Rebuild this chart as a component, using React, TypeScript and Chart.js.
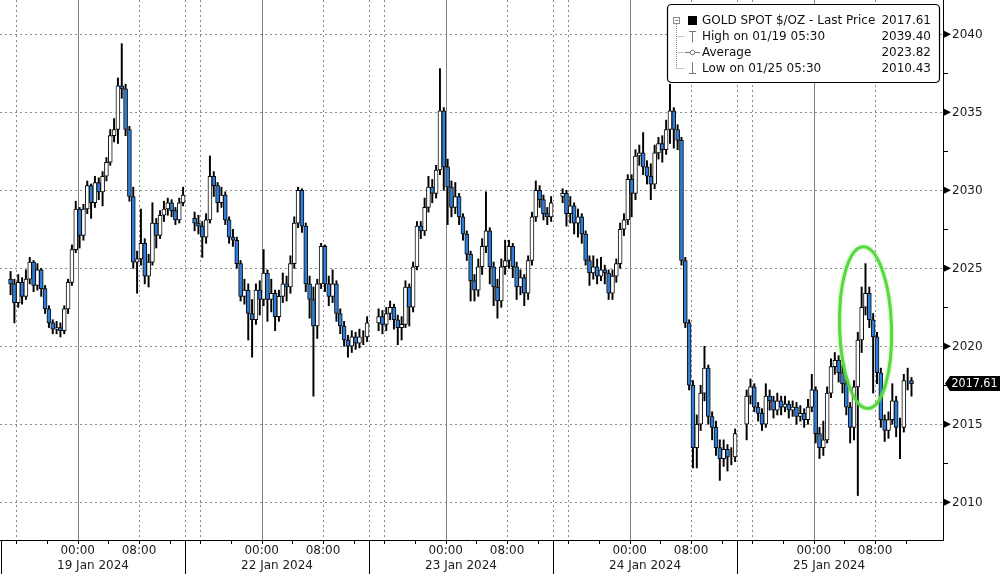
import React, { useEffect, useRef } from "react";
import { Chart, registerables } from "chart.js";

Chart.register(...registerables);

// ---- data ----
const dayLabels = ["19 Jan 2024", "22 Jan 2024", "23 Jan 2024", "24 Jan 2024", "25 Jan 2024"];
const barsPerDay = [46, 46, 46, 46, 44];
const hourTickLabels = ["00:00", "08:00"];
const yMajorTicks = [2010, 2015, 2020, 2025, 2030, 2035, 2040];

const opens = [
  // 19 Jan
  2024.3, 2024.0, 2022.8, 2024.1, 2023.2, 2024.3, 2025.4, 2023.9, 2024.9, 2023.7,
  2022.4, 2021.5, 2021.1, 2021.2, 2021.0, 2022.4, 2024.1, 2026.2, 2028.8, 2027.1,
  2028.8, 2030.3, 2029.2, 2030.5, 2029.9, 2030.9, 2031.8, 2033.5, 2033.9, 2036.7,
  2036.5, 2033.9, 2029.6, 2025.4, 2025.6, 2026.6, 2024.5, 2025.4, 2027.9, 2027.1,
  2028.4, 2028.8, 2029.2, 2028.7, 2028.1, 2029.2,
  // 22 Jan
  2028.2, 2027.9, 2027.7, 2027.0, 2028.1, 2030.9, 2030.3, 2029.2, 2029.7, 2028.1,
  2027.0, 2026.8, 2025.3, 2023.2, 2023.6, 2022.1, 2021.7, 2023.6, 2023.0, 2024.7,
  2023.0, 2023.4, 2021.9, 2023.2, 2024.0, 2023.8, 2025.3, 2027.9, 2030.0, 2027.7,
  2024.0, 2023.0, 2021.3, 2024.0, 2026.4, 2024.0, 2023.2, 2024.0, 2022.1, 2021.3,
  2020.4, 2020.0, 2020.6, 2020.2, 2020.6, 2020.6,
  // 23 Jan
  2021.5, 2021.9, 2021.4, 2022.1, 2022.5, 2021.7, 2021.2, 2021.4, 2023.8, 2022.5,
  2025.1, 2027.7, 2027.4, 2028.9, 2030.2, 2029.8, 2031.3, 2035.1, 2031.5, 2030.2,
  2028.9, 2029.6, 2028.3, 2027.2, 2025.9, 2024.2, 2023.6, 2025.1, 2026.4, 2027.4,
  2025.1, 2023.8, 2022.9, 2025.1, 2025.5, 2026.4, 2025.1, 2023.8, 2024.4, 2023.4,
  2025.5, 2028.3, 2030.0, 2029.4, 2028.5, 2028.3,
  // 24 Jan
  2029.6, 2029.8, 2028.5, 2029.0, 2027.9, 2028.3, 2027.2, 2025.5, 2024.7, 2025.1,
  2024.5, 2024.9, 2024.7, 2023.4, 2024.5, 2025.3, 2027.5, 2028.1, 2030.7, 2029.8,
  2032.2, 2032.4, 2031.5, 2030.9, 2030.4, 2032.4, 2033.0, 2032.6, 2033.9, 2035.1,
  2033.9, 2033.2, 2025.5, 2021.5, 2017.5, 2013.5, 2015.0, 2017.0, 2018.6, 2015.5,
  2014.8, 2013.5, 2012.8, 2013.4, 2012.9, 2012.9,
  // 25 Jan
  2015.0, 2016.8, 2017.4, 2016.1, 2015.7, 2015.0, 2016.8, 2016.5, 2015.9, 2016.5,
  2016.1, 2016.3, 2015.9, 2016.1, 2015.5, 2015.7, 2015.3, 2016.1, 2017.2, 2014.4,
  2013.5, 2014.0, 2017.0, 2018.7, 2019.1, 2018.3, 2017.6, 2016.1, 2014.8, 2017.4,
  2020.4, 2022.5, 2023.4, 2021.7, 2020.6, 2018.3, 2015.3, 2014.6, 2015.3, 2016.5,
  2014.8, 2014.8, 2017.8, 2017.8,
];

const highs = [
  // 19 Jan
  2024.8, 2024.3, 2024.6, 2024.4, 2024.9, 2025.7, 2025.5, 2025.3, 2025.0, 2023.9,
  2022.6, 2021.7, 2021.6, 2021.5, 2022.6, 2024.3, 2026.5, 2029.3, 2028.9, 2029.1,
  2030.6, 2030.4, 2030.9, 2030.8, 2031.2, 2032.1, 2033.9, 2034.6, 2037.2, 2039.4,
  2036.8, 2034.1, 2030.2, 2026.1, 2028.8, 2026.9, 2025.9, 2029.2, 2028.2, 2028.7,
  2029.3, 2029.5, 2029.4, 2028.9, 2029.5, 2030.2,
  // 22 Jan
  2028.6, 2028.4, 2028.0, 2028.5, 2032.2, 2031.2, 2030.5, 2030.2, 2029.9, 2028.3,
  2027.5, 2027.0, 2025.5, 2024.3, 2024.0, 2023.0, 2024.0, 2024.2, 2026.2, 2024.9,
  2024.3, 2023.6, 2023.6, 2024.7, 2024.5, 2025.8, 2028.3, 2030.2, 2030.1, 2027.9,
  2024.5, 2023.8, 2024.3, 2026.6, 2026.5, 2024.5, 2024.9, 2024.2, 2022.4, 2021.6,
  2020.7, 2021.0, 2020.9, 2021.1, 2021.0, 2021.9,
  // 23 Jan
  2022.4, 2022.3, 2022.5, 2022.9, 2022.7, 2022.0, 2021.9, 2024.2, 2024.0, 2025.4,
  2028.0, 2028.0, 2029.5, 2030.9, 2030.7, 2031.6, 2037.8, 2035.3, 2032.0, 2030.6,
  2030.5, 2029.8, 2028.5, 2027.4, 2026.1, 2024.6, 2025.6, 2026.9, 2029.9, 2027.6,
  2025.4, 2024.3, 2025.6, 2026.8, 2026.8, 2026.6, 2025.4, 2024.9, 2024.6, 2025.8,
  2028.6, 2030.6, 2030.3, 2029.7, 2028.9, 2029.6,
  // 24 Jan
  2030.1, 2030.0, 2029.6, 2029.2, 2028.8, 2028.5, 2027.4, 2025.8, 2025.8, 2025.6,
  2025.7, 2025.2, 2024.9, 2024.9, 2025.6, 2027.9, 2028.5, 2031.0, 2031.0, 2032.6,
  2032.9, 2033.7, 2031.9, 2031.7, 2032.9, 2033.4, 2033.5, 2034.5, 2036.8, 2035.3,
  2034.2, 2033.4, 2025.7, 2021.7, 2017.8, 2015.6, 2017.5, 2020.0, 2018.8, 2015.8,
  2015.2, 2014.0, 2014.0, 2013.7, 2013.5, 2014.7,
  // 25 Jan
  2017.2, 2017.9, 2017.6, 2016.4, 2016.0, 2017.6, 2017.2, 2016.8, 2017.0, 2016.8,
  2016.8, 2016.5, 2016.5, 2016.4, 2016.2, 2016.0, 2016.6, 2018.2, 2017.4, 2014.8,
  2015.2, 2017.4, 2019.2, 2019.6, 2019.4, 2018.8, 2017.9, 2016.4, 2017.8, 2020.9,
  2023.8, 2025.3, 2023.8, 2022.1, 2020.9, 2018.6, 2015.6, 2015.8, 2017.6, 2016.8,
  2015.4, 2018.2, 2018.6, 2018.0,
];

const lows = [
  // 19 Jan
  2023.3, 2021.5, 2022.5, 2022.7, 2023.0, 2024.0, 2023.5, 2023.6, 2023.2, 2022.1,
  2021.2, 2020.8, 2020.8, 2020.6, 2020.8, 2022.1, 2023.9, 2026.0, 2026.3, 2026.8,
  2028.5, 2028.2, 2028.9, 2029.4, 2029.0, 2030.6, 2031.6, 2033.1, 2033.0, 2035.9,
  2033.5, 2029.3, 2025.0, 2023.4, 2025.2, 2024.0, 2023.8, 2025.2, 2026.3, 2026.9,
  2028.0, 2028.4, 2028.3, 2027.8, 2027.9, 2029.0,
  // 22 Jan
  2027.4, 2027.2, 2025.7, 2026.6, 2027.9, 2029.6, 2028.6, 2028.9, 2027.8, 2026.6,
  2026.4, 2025.0, 2022.9, 2022.7, 2020.4, 2019.3, 2021.4, 2022.0, 2022.6, 2021.6,
  2022.2, 2021.0, 2021.6, 2022.8, 2022.9, 2023.4, 2025.0, 2027.6, 2027.3, 2023.5,
  2021.8, 2016.8, 2020.5, 2023.7, 2023.5, 2022.6, 2022.8, 2021.6, 2020.8, 2020.0,
  2019.3, 2019.6, 2019.8, 2019.9, 2020.1, 2020.3,
  // 23 Jan
  2021.0, 2020.8, 2021.0, 2021.7, 2021.1, 2020.1, 2020.4, 2021.2, 2021.3, 2022.2,
  2024.9, 2026.9, 2027.1, 2028.6, 2029.2, 2029.5, 2031.0, 2030.0, 2027.8, 2028.3,
  2028.5, 2027.8, 2026.8, 2025.5, 2022.9, 2022.9, 2023.2, 2024.6, 2026.0, 2024.0,
  2022.6, 2021.8, 2022.5, 2024.6, 2025.0, 2024.4, 2023.0, 2023.3, 2022.6, 2023.0,
  2025.2, 2028.0, 2028.9, 2028.1, 2027.8, 2028.0,
  // 24 Jan
  2029.2, 2027.7, 2027.9, 2027.2, 2027.0, 2026.6, 2025.2, 2023.9, 2024.3, 2024.0,
  2024.2, 2024.0, 2023.0, 2023.0, 2024.1, 2025.0, 2027.1, 2027.8, 2028.3, 2029.4,
  2031.6, 2031.0, 2030.4, 2029.4, 2030.1, 2032.0, 2031.8, 2032.3, 2033.0, 2032.7,
  2032.6, 2025.2, 2021.2, 2017.2, 2012.2, 2012.2, 2014.6, 2016.5, 2015.0, 2014.0,
  2013.0, 2011.4, 2012.3, 2012.0, 2012.4, 2012.6,
  // 25 Jan
  2014.0, 2016.3, 2015.8, 2015.2, 2014.6, 2014.8, 2015.9, 2015.4, 2015.6, 2015.6,
  2015.8, 2015.4, 2015.5, 2015.0, 2015.2, 2014.8, 2015.0, 2015.8, 2013.8, 2012.8,
  2013.0, 2013.8, 2016.7, 2018.2, 2017.7, 2017.0, 2015.6, 2013.8, 2014.0, 2010.43,
  2019.6, 2022.0, 2021.2, 2017.0, 2017.6, 2014.8, 2013.9, 2014.1, 2015.0, 2014.2,
  2012.8, 2014.5, 2017.2, 2016.8,
];

const closes = [
  // 19 Jan
  2024.0, 2022.8, 2024.1, 2023.2, 2024.3, 2025.4, 2023.9, 2024.9, 2023.7, 2022.4,
  2021.5, 2021.1, 2021.2, 2021.0, 2022.4, 2024.1, 2026.2, 2028.8, 2027.1, 2028.8,
  2030.3, 2029.2, 2030.5, 2029.9, 2030.9, 2031.8, 2033.5, 2033.9, 2036.7, 2036.5,
  2033.9, 2029.6, 2025.4, 2025.6, 2026.6, 2024.5, 2025.4, 2027.9, 2027.1, 2028.4,
  2028.8, 2029.2, 2028.7, 2028.1, 2029.2, 2029.7,
  // 22 Jan
  2027.9, 2027.7, 2027.0, 2028.1, 2030.9, 2030.3, 2029.2, 2029.7, 2028.1, 2027.0,
  2026.8, 2025.3, 2023.2, 2023.6, 2022.1, 2021.7, 2023.6, 2023.0, 2024.7, 2023.0,
  2023.4, 2021.9, 2023.2, 2024.0, 2023.8, 2025.3, 2027.9, 2030.0, 2027.7, 2024.0,
  2023.0, 2021.3, 2024.0, 2026.4, 2024.0, 2023.2, 2024.0, 2022.1, 2021.3, 2020.4,
  2020.0, 2020.6, 2020.2, 2020.6, 2020.6, 2021.5,
  // 23 Jan
  2021.9, 2021.4, 2022.1, 2022.5, 2021.7, 2021.2, 2021.4, 2023.8, 2022.5, 2025.1,
  2027.7, 2027.4, 2028.9, 2030.2, 2029.8, 2031.3, 2035.1, 2031.5, 2030.2, 2028.9,
  2029.6, 2028.3, 2027.2, 2025.9, 2024.2, 2023.6, 2025.1, 2026.4, 2027.4, 2025.1,
  2023.8, 2022.9, 2025.1, 2025.5, 2026.4, 2025.1, 2023.8, 2024.4, 2023.4, 2025.5,
  2028.3, 2030.0, 2029.4, 2028.5, 2028.3, 2029.2,
  // 24 Jan
  2029.8, 2028.5, 2029.0, 2027.9, 2028.3, 2027.2, 2025.5, 2024.7, 2025.1, 2024.5,
  2024.9, 2024.7, 2023.4, 2024.5, 2025.3, 2027.5, 2028.1, 2030.7, 2029.8, 2032.2,
  2032.4, 2031.5, 2030.9, 2030.4, 2032.4, 2033.0, 2032.6, 2033.9, 2035.1, 2033.9,
  2033.2, 2025.5, 2021.5, 2017.5, 2013.5, 2015.0, 2017.0, 2018.6, 2015.5, 2014.8,
  2013.5, 2012.8, 2013.4, 2012.9, 2012.9, 2014.4,
  // 25 Jan
  2016.8, 2017.4, 2016.1, 2015.7, 2015.0, 2016.8, 2016.5, 2015.9, 2016.5, 2016.1,
  2016.3, 2015.9, 2016.1, 2015.5, 2015.7, 2015.3, 2016.1, 2017.2, 2014.4, 2013.5,
  2014.0, 2017.0, 2018.7, 2019.1, 2018.3, 2017.6, 2016.1, 2014.8, 2017.4, 2020.4,
  2022.5, 2023.4, 2021.7, 2020.6, 2018.3, 2015.3, 2014.6, 2015.3, 2016.5, 2014.8,
  2014.8, 2017.8, 2017.8, 2017.61,
];

const legendLabels = [
  "GOLD SPOT $/OZ - Last Price",
  "High on 01/19 05:30",
  "Average",
  "Low on 01/25 05:30",
];
const legendValues = ["2017.61", "2039.40", "2023.82", "2010.43"];
const lastPrice = 2017.61;
const lastPriceLabel = "2017.61";

// ---- time axis (hours since 14:00 on 18 Jan, each session = 24h slot) ----
const SESSION_HOURS = 24;
const FIRST_BAR_OFFSET = 1; // first half-hour bar starts 15:00
const BAR_HOURS = 0.5;

const barHours: number[] = [];
barsPerDay.forEach((n, k) => {
  for (let i = 0; i < n; i++) barHours.push(SESSION_HOURS * k + FIRST_BAR_OFFSET + BAR_HOURS * (i + 0.5));
});

const FONT = "'DejaVu Sans', 'Liberation Sans', sans-serif";
const UP_COLOR = "#ffffff";
const DOWN_COLOR = "#2d7ddb";

const decorPlugin = {
  id: "decor",
  beforeDatasetsDraw(chart: any) {
    const { ctx, chartArea: a, scales } = chart;
    const x = scales.x;
    const y = scales.y;
    ctx.save();
    ctx.lineWidth = 1;
    ctx.strokeStyle = "#8c8c8c";
    ctx.setLineDash([2, 3]);
    for (const v of yMajorTicks) {
      const py = Math.round(y.getPixelForValue(v)) + 0.5;
      ctx.beginPath();
      ctx.moveTo(a.left, py);
      ctx.lineTo(a.right, py);
      ctx.stroke();
    }
    for (let k = 0; k < dayLabels.length; k++) {
      const hs = [SESSION_HOURS * k + 2, SESSION_HOURS * k + 18];
      if (k > 0) hs.push(SESSION_HOURS * k);
      for (const h of hs) {
        const px = Math.round(x.getPixelForValue(h)) + 0.5;
        ctx.beginPath();
        ctx.moveTo(px, a.top);
        ctx.lineTo(px, a.bottom);
        ctx.stroke();
      }
    }
    ctx.setLineDash([]);
    ctx.strokeStyle = "#808080";
    for (let k = 0; k < dayLabels.length; k++) {
      const px = Math.round(x.getPixelForValue(SESSION_HOURS * k + 10)) + 0.5;
      ctx.beginPath();
      ctx.moveTo(px, a.top);
      ctx.lineTo(px, a.bottom);
      ctx.stroke();
    }
    ctx.restore();
  },
  afterDraw(chart: any) {
    const { ctx, chartArea: a, scales } = chart;
    const x = scales.x;
    const y = scales.y;
    const H = chart.height;
    const W = chart.width;
    ctx.save();

    // green ellipse annotation
    const cx = x.getPixelForValue(112.76);
    const cy = y.getPixelForValue(2021.2);
    const rx = x.getPixelForValue(112.76 + 3.39) - cx;
    const ry = cy - y.getPixelForValue(2021.2 + 5.19);
    ctx.strokeStyle = "#58d840";
    ctx.lineWidth = 3;
    ctx.shadowColor = "rgba(90,220,60,0.6)";
    ctx.shadowBlur = 3;
    ctx.beginPath();
    ctx.ellipse(cx, cy, rx, ry, -0.03, 0, Math.PI * 2);
    ctx.stroke();
    ctx.shadowBlur = 0;
    ctx.shadowColor = "transparent";

    // axes lines
    ctx.strokeStyle = "#000";
    ctx.lineWidth = 1;
    ctx.beginPath();
    ctx.moveTo(0, a.bottom + 0.5);
    ctx.lineTo(a.right + 0.5, a.bottom + 0.5);
    ctx.moveTo(a.right + 0.5, 0);
    ctx.lineTo(a.right + 0.5, a.bottom + 0.5);
    ctx.stroke();

    ctx.beginPath();
    for (let k = 0; k < dayLabels.length; k++) {
      for (const off of [2, 6, 10, 14, 18, 22]) {
        const px = Math.round(x.getPixelForValue(SESSION_HOURS * k + off)) + 0.5;
        if (px > a.right) continue;
        ctx.moveTo(px, a.bottom);
        ctx.lineTo(px, a.bottom + 4);
      }
    }
    for (let k = 0; k < dayLabels.length; k++) {
      const px = Math.round(x.getPixelForValue(SESSION_HOURS * k)) + 0.5;
      ctx.moveTo(px, a.bottom);
      ctx.lineTo(px, H);
    }
    ctx.stroke();

    ctx.fillStyle = "#1a1a1a";
    ctx.font = `12px ${FONT}`;
    ctx.textAlign = "center";
    ctx.textBaseline = "middle";
    for (let k = 0; k < dayLabels.length; k++) {
      ctx.fillText(hourTickLabels[0], x.getPixelForValue(SESSION_HOURS * k + 10), a.bottom + 10.5);
      ctx.fillText(hourTickLabels[1], x.getPixelForValue(SESSION_HOURS * k + 18), a.bottom + 10.5);
      ctx.fillText(dayLabels[k], x.getPixelForValue(SESSION_HOURS * k + 12), a.bottom + 26);
    }

    ctx.textAlign = "left";
    for (const v of yMajorTicks) {
      const py = y.getPixelForValue(v);
      ctx.fillStyle = "#000";
      ctx.beginPath();
      ctx.moveTo(a.right + 1, py - 3.5);
      ctx.lineTo(a.right + 8, py);
      ctx.lineTo(a.right + 1, py + 3.5);
      ctx.closePath();
      ctx.fill();
      ctx.fillStyle = "#1a1a1a";
      ctx.fillText(String(v), a.right + 9, py + 0.5);
      const pm = Math.round(y.getPixelForValue(v + 2.5)) + 0.5;
      if (pm > a.top) {
        ctx.beginPath();
        ctx.moveTo(a.right, pm);
        ctx.lineTo(a.right + 5, pm);
        ctx.strokeStyle = "#000";
        ctx.stroke();
      }
    }

    // last price tag
    const ty = y.getPixelForValue(lastPrice);
    ctx.fillStyle = "#000";
    ctx.beginPath();
    ctx.moveTo(a.right + 2, ty);
    ctx.lineTo(a.right + 7, ty - 7.5);
    ctx.lineTo(W, ty - 7.5);
    ctx.lineTo(W, ty + 7.5);
    ctx.lineTo(a.right + 7, ty + 7.5);
    ctx.closePath();
    ctx.fill();
    ctx.fillStyle = "#fff";
    ctx.fillText(lastPriceLabel, a.right + 8.5, ty + 0.5, 46);

    // legend box
    const bx = 667.5, by = 4.5, bw = 272, bh = 78;
    ctx.fillStyle = "#fff";
    ctx.strokeStyle = "#000";
    ctx.lineWidth = 1.2;
    ctx.beginPath();
    ctx.roundRect(bx, by, bw, bh, 4);
    ctx.fill();
    ctx.stroke();
    ctx.lineWidth = 1;
    const rows = [20.5, 36.5, 52.5, 68.5];
    ctx.strokeStyle = "#8a8a8a";
    ctx.strokeRect(673.5, 17.5, 6, 6);
    ctx.beginPath();
    ctx.moveTo(675, 20.5);
    ctx.lineTo(678.5, 20.5);
    ctx.stroke();
    ctx.setLineDash([1, 1]);
    ctx.beginPath();
    ctx.moveTo(676.5, 24);
    ctx.lineTo(676.5, rows[3]);
    for (let r = 1; r < 4; r++) {
      ctx.moveTo(676.5, rows[r]);
      ctx.lineTo(684, rows[r]);
    }
    ctx.stroke();
    ctx.setLineDash([]);
    ctx.fillStyle = "#000";
    ctx.fillRect(688, 16, 9, 9);
    ctx.strokeStyle = "#777";
    ctx.beginPath();
    ctx.moveTo(689, rows[1] - 5);
    ctx.lineTo(696, rows[1] - 5);
    ctx.moveTo(692.5, rows[1] - 5);
    ctx.lineTo(692.5, rows[1] + 6);
    ctx.moveTo(685, rows[2]);
    ctx.lineTo(690, rows[2]);
    ctx.moveTo(695, rows[2]);
    ctx.lineTo(700, rows[2]);
    ctx.moveTo(692.5, rows[3] - 6);
    ctx.lineTo(692.5, rows[3] + 5);
    ctx.moveTo(689, rows[3] + 5);
    ctx.lineTo(696, rows[3] + 5);
    ctx.stroke();
    ctx.beginPath();
    ctx.arc(692.5, rows[2], 2.3, 0, Math.PI * 2);
    ctx.stroke();
    ctx.fillStyle = "#111";
    ctx.font = `12px ${FONT}`;
    for (let r = 0; r < 4; r++) {
      ctx.textAlign = "left";
      ctx.fillText(legendLabels[r], 702, rows[r] + 0.5);
      ctx.textAlign = "right";
      ctx.fillText(legendValues[r], 931, rows[r] + 0.5);
    }
    ctx.restore();
  },
};

export default function App() {
  const canvasRef = useRef<HTMLCanvasElement | null>(null);

  useEffect(() => {
    const canvas = canvasRef.current;
    if (!canvas) return;
    const wickData = barHours.map((h, j) => ({ x: h, y: [lows[j], highs[j]] }));
    const bodyData = barHours.map((h, j) => ({ x: h, y: [opens[j], closes[j]] }));
    const bodyColors = barHours.map((_, j) => (closes[j] >= opens[j] ? UP_COLOR : DOWN_COLOR));

    const chart = new Chart(canvas, {
      type: "bar",
      data: {
        datasets: [
          {
            label: "wicks",
            data: wickData as any,
            backgroundColor: "#000",
            borderWidth: 0,
            barThickness: 1.3,
            grouped: false,
            order: 2,
          } as any,
          {
            label: "bodies",
            data: bodyData as any,
            backgroundColor: bodyColors,
            borderColor: "#0a0a0a",
            borderWidth: 1,
            borderSkipped: false,
            barThickness: 4,
            grouped: false,
            order: 1,
          } as any,
        ],
      },
      options: {
        animation: false,
        responsive: true,
        maintainAspectRatio: false,
        events: [],
        layout: { padding: 0 },
        plugins: { legend: { display: false }, tooltip: { enabled: false }, title: { display: false } },
        scales: {
          x: {
            type: "linear",
            min: -0.13,
            max: 122.86,
            offset: false,
            grid: { display: false },
            border: { display: false },
            ticks: { display: false },
            afterFit: (s: any) => {
              s.height = 34;
            },
          },
          y: {
            position: "right",
            min: 2007.58,
            max: 2042.2,
            grid: { display: false },
            border: { display: false },
            ticks: { display: false },
            afterFit: (s: any) => {
              s.width = 57;
            },
          },
        },
      } as any,
      plugins: [decorPlugin],
    });
    return () => chart.destroy();
  }, []);

  return (
    <div style={{ position: "fixed", left: 0, top: 0, width: 1000, height: 574, background: "#fff" }}>
      <canvas ref={canvasRef} />
    </div>
  );
}
